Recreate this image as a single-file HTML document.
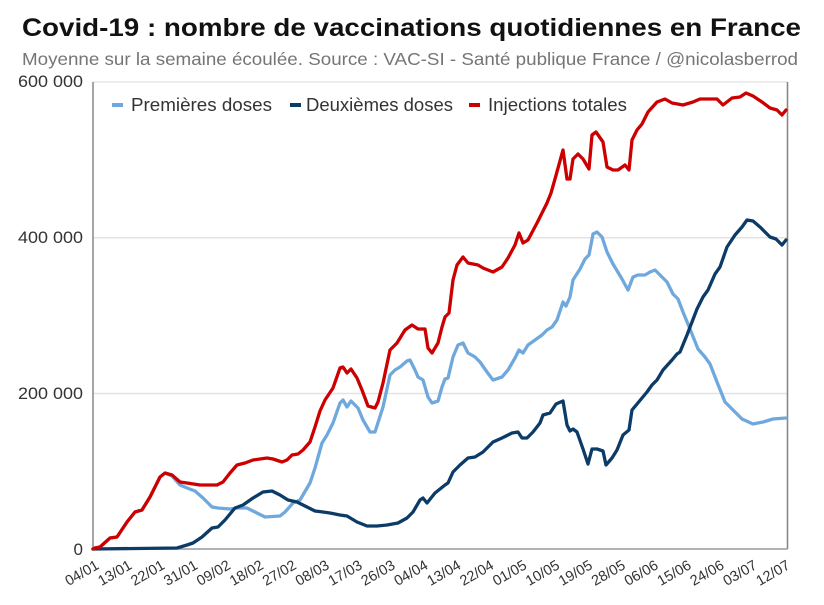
<!DOCTYPE html>
<html>
<head>
<meta charset="utf-8">
<style>
  html,body{margin:0;padding:0;background:#fff;}
  body{width:824px;height:605px;overflow:hidden;}
  svg{display:block;font-family:"Liberation Sans",Arial,sans-serif;}
</style>
</head>
<body>
<svg width="824" height="605" viewBox="0 0 824 605" xmlns="http://www.w3.org/2000/svg">
  <rect x="0" y="0" width="824" height="605" fill="#fff"/>
  <!-- Title -->
  <text x="22" y="36" font-size="25" font-weight="bold" fill="#111" textLength="779" lengthAdjust="spacingAndGlyphs">Covid-19 : nombre de vaccinations quotidiennes en France</text>
  <text x="22" y="65" font-size="17.5" fill="#757575" textLength="776" lengthAdjust="spacingAndGlyphs">Moyenne sur la semaine écoulée. Source : VAC-SI - Santé publique France / @nicolasberrod</text>

  <!-- gridlines -->
  <line x1="93" y1="393.5" x2="787.5" y2="393.5" stroke="#e3e3e3" stroke-width="1.5"/>
  <line x1="93" y1="237.8" x2="787.5" y2="237.8" stroke="#e3e3e3" stroke-width="1.5"/>
  <!-- frame -->
  <line x1="93" y1="82" x2="787.5" y2="82" stroke="#e0e0e0" stroke-width="1.2"/>
  <line x1="93" y1="82" x2="93" y2="549" stroke="#777" stroke-width="1.3"/>
  <line x1="787.5" y1="82" x2="787.5" y2="549" stroke="#888" stroke-width="1.6"/>
  <line x1="93" y1="549" x2="787.5" y2="549" stroke="#999" stroke-width="1.6"/>

  <!-- y labels -->
  <g font-size="17" fill="#333" text-anchor="end">
    <text x="83" y="87" textLength="65" lengthAdjust="spacingAndGlyphs">600 000</text>
    <text x="83" y="243" textLength="65" lengthAdjust="spacingAndGlyphs">400 000</text>
    <text x="83" y="399" textLength="65" lengthAdjust="spacingAndGlyphs">200 000</text>
    <text x="83" y="555">0</text>
  </g>

  <!-- x labels -->
  <g font-size="14.5" fill="#333" text-anchor="end">
    <text transform="translate(100,568) rotate(-30)">04/01</text>
    <text transform="translate(132.9,568) rotate(-30)">13/01</text>
    <text transform="translate(165.8,568) rotate(-30)">22/01</text>
    <text transform="translate(198.7,568) rotate(-30)">31/01</text>
    <text transform="translate(231.6,568) rotate(-30)">09/02</text>
    <text transform="translate(264.5,568) rotate(-30)">18/02</text>
    <text transform="translate(297.4,568) rotate(-30)">27/02</text>
    <text transform="translate(330.3,568) rotate(-30)">08/03</text>
    <text transform="translate(363.2,568) rotate(-30)">17/03</text>
    <text transform="translate(396.1,568) rotate(-30)">26/03</text>
    <text transform="translate(429,568) rotate(-30)">04/04</text>
    <text transform="translate(461.9,568) rotate(-30)">13/04</text>
    <text transform="translate(494.8,568) rotate(-30)">22/04</text>
    <text transform="translate(527.7,568) rotate(-30)">01/05</text>
    <text transform="translate(560.6,568) rotate(-30)">10/05</text>
    <text transform="translate(593.5,568) rotate(-30)">19/05</text>
    <text transform="translate(626.4,568) rotate(-30)">28/05</text>
    <text transform="translate(659.3,568) rotate(-30)">06/06</text>
    <text transform="translate(692.2,568) rotate(-30)">15/06</text>
    <text transform="translate(725.1,568) rotate(-30)">24/06</text>
    <text transform="translate(758,568) rotate(-30)">03/07</text>
    <text transform="translate(791,568) rotate(-30)">12/07</text>
  </g>

  <!-- Premières doses -->
  <polyline fill="none" stroke="#6fa8dc" stroke-width="3.3" stroke-linejoin="round" stroke-linecap="round"
    points="93,549 95,548 100,547 110,538 117,537 127,522 135,512 142,510 150,497 160,477 165,473 172,476 180,485 187,488 195,491 203,498 212,507 218,508 230,509 237,508 247,508 257,513 265,517 280,516 285,512 293,503 300,500 310,483 315,468 322,443 327,435 333,423 340,403 343,400 347,407 351,401 358,408 363,420 370,432 375,432 383,407 390,375 395,370 400,367 407,361 410,360 415,370 418,377 423,380 428,397 432,403 438,401 442,387 445,379 448,378 453,357 458,345 463,343 468,353 475,357 480,362 487,372 493,380 502,377 508,370 515,358 519,350 523,353 528,345 535,340 542,335 547,330 552,327 557,320 563,302 566,306 570,297 573,280 580,269 585,259 589,255 593,234 597,232 602,237 607,252 613,264 622,279 628,290 633,277 638,275 645,275 650,272 655,270 660,275 667,282 673,294 678,299 683,312 690,329 698,349 705,357 710,364 717,382 725,402 732,409 742,419 753,424 763,422 773,419 786,418"/>

  <!-- Deuxièmes doses -->
  <polyline fill="none" stroke="#0b3b66" stroke-width="3.3" stroke-linejoin="round" stroke-linecap="round"
    points="93,549 177,548 187,545 193,543 202,537 212,528 218,527 225,520 235,508 243,505 253,498 263,492 272,491 280,495 288,500 297,502 307,507 315,511 323,512 330,513 340,515 347,516 357,522 367,526 377,526 387,525 398,523 407,518 413,512 420,500 423,498 427,503 435,493 445,485 448,483 453,472 460,465 468,458 475,457 483,452 493,442 502,438 512,433 518,432 522,438 527,438 533,432 540,423 543,415 550,413 556,404 563,401 567,425 570,431 573,429 577,432 583,449 588,464 592,449 597,449 603,451 606,465 612,458 617,450 623,435 629,430 632,410 637,404 647,392 652,385 657,380 663,370 672,360 677,354 680,352 687,335 697,309 703,297 708,290 715,274 720,267 727,247 735,235 742,227 747,220 753,221 760,227 770,237 776,239 782,245 786,240"/>

  <!-- Injections totales -->
  <polyline fill="none" stroke="#cc0000" stroke-width="3.3" stroke-linejoin="round" stroke-linecap="round"
    points="93,549 95,548 100,547 110,538 117,537 127,522 135,512 142,510 150,497 160,477 165,473 172,475 180,482 187,483 200,485 217,485 223,482 230,473 237,465 245,463 253,460 267,458 273,459 282,462 287,460 292,455 298,454 303,450 310,442 315,427 320,411 325,400 333,388 340,368 343,367 347,373 351,369 357,378 362,390 368,406 375,408 378,402 383,383 390,350 397,343 405,330 412,325 418,329 425,329 428,348 432,353 438,343 442,327 445,317 449,313 453,280 457,265 463,257 468,263 478,265 483,268 493,272 502,267 508,258 515,245 519,233 523,243 528,240 537,223 547,203 551,193 555,179 563,150 567,179 570,179 573,159 578,154 583,159 589,169 592,135 596,132 603,142 607,167 613,170 618,170 625,165 629,170 632,140 637,130 642,124 648,112 657,102 665,99 672,103 683,105 693,102 700,99 717,99 723,105 732,98 740,97 746,93 753,96 762,102 770,108 777,110 782,115 786,110"/>

  <!-- legend -->
  <rect x="112" y="103" width="11" height="4" fill="#6fa8dc"/>
  <text x="131" y="111" font-size="18" fill="#333" textLength="141" lengthAdjust="spacingAndGlyphs">Premières doses</text>
  <rect x="290" y="103" width="11" height="4" fill="#0b3b66"/>
  <text x="306" y="111" font-size="18" fill="#333" textLength="147" lengthAdjust="spacingAndGlyphs">Deuxièmes doses</text>
  <rect x="469" y="103" width="11" height="4" fill="#cc0000"/>
  <text x="488" y="111" font-size="18" fill="#333" textLength="139" lengthAdjust="spacingAndGlyphs">Injections totales</text>
</svg>
</body>
</html>
